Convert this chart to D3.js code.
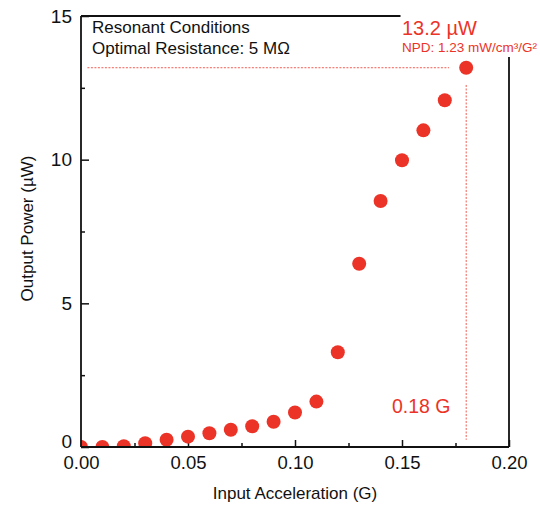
<!DOCTYPE html>
<html>
<head>
<meta charset="utf-8">
<script src="https://cdn.jsdelivr.net/npm/d3@7"></script>
<style>
  body { margin: 0; background: #fff; }
  #plot { width: 540px; height: 507px; }
  text { font-family: "Liberation Sans", Arial, Helvetica, sans-serif; }
</style>
</head>
<body>
<div id="plot"></div>
<script>
// data
var accel = [0.00, 0.01, 0.02, 0.03, 0.04, 0.05, 0.06, 0.07, 0.08, 0.09,
             0.10, 0.11, 0.12, 0.13, 0.14, 0.15, 0.16, 0.17, 0.18];
var power = [0.0, 0.0, 0.03, 0.13, 0.25, 0.36, 0.48, 0.60, 0.72, 0.88,
             1.20, 1.58, 3.30, 6.38, 8.56, 9.98, 11.02, 12.07, 13.2];
var xMajor = [0.00, 0.05, 0.10, 0.15, 0.20];
var xMinor = [0.025, 0.075, 0.125, 0.175];
var yMajor = [0, 5, 10, 15];
var yMinor = [2.5, 7.5, 12.5];

var red = '#ec3327';

var margin = {t:16, r:31, b:60, l:81};
var width = 540 - margin.l - margin.r,
    height = 507 - margin.t - margin.b;

var svg = d3.select('#plot')
    .append('svg')
    .attr('width', 540)
    .attr('height', 507);

svg.append('defs').append('clipPath')
    .attr('id', 'clip')
    .append('rect')
    .attr('width', width)
    .attr('height', height);

var plot = svg.append('g')
    .attr('transform', 'translate(' + margin.l + ',' + margin.t + ')');

var x = d3.scaleLinear().domain([0, 0.20]).range([0, width]);
var y = d3.scaleLinear().domain([0, 15]).range([height, 0]);

// minor ticks (inward, no labels)
plot.append('g')
    .attr('transform', 'translate(0,' + height + ')')
    .call(d3.axisBottom(x).tickValues(xMinor).tickSize(-4).tickFormat(''))
    .call(function(g){ g.select('.domain').remove(); });
plot.append('g')
    .call(d3.axisLeft(y).tickValues(yMinor).tickSize(-4).tickFormat(''))
    .call(function(g){ g.select('.domain').remove(); });

// major ticks
var xAxis = plot.append('g')
    .attr('transform', 'translate(0,' + height + ')')
    .call(d3.axisBottom(x).tickValues(xMajor).tickSize(-7).tickPadding(9)
        .tickFormat(d3.format('.2f')));
xAxis.select('.domain').remove();
xAxis.selectAll('text').style('font-size', '18.5px').attr('fill', '#111');

var yAxis = plot.append('g')
    .call(d3.axisLeft(y).tickValues(yMajor).tickSize(-8).tickPadding(9));
yAxis.select('.domain').remove();
yAxis.selectAll('text').style('font-size', '19px').attr('fill', '#111')
    .attr('dy', function(d){ return d === 0 ? '0.05em' : '0.32em'; });
plot.selectAll('.tick line').attr('stroke', '#111').attr('stroke-width', 1.5);

// dashed guides to the max point
plot.append('line')
    .attr('x1', x(0.003)).attr('x2', x(0.172))
    .attr('y1', y(13.2)).attr('y2', y(13.2))
    .attr('stroke', red).attr('stroke-width', 0.8)
    .attr('stroke-dasharray', '2,1.5');
plot.append('line')
    .attr('x1', x(0.18)).attr('x2', x(0.18))
    .attr('y1', y(12.6)).attr('y2', y(0.25))
    .attr('stroke', red).attr('stroke-width', 0.8)
    .attr('stroke-dasharray', '2,1.5');

// points, clipped to the plot area like the original
plot.append('g')
    .attr('clip-path', 'url(#clip)')
    .selectAll('circle.pt')
    .data(accel)
    .enter()
    .append('circle')
    .attr('class', 'pt')
    .attr('cx', function(d){ return x(d); })
    .attr('cy', function(d, i){ return y(power[i]); })
    .attr('r', 7)
    .attr('fill', red);

// frame: top border stops before the label, right border starts below it
var frame = plot.append('g')
    .attr('stroke', '#111')
    .attr('stroke-width', 1.8)
    .attr('fill', 'none');
frame.append('line').attr('x1', x(0)).attr('x2', x(0)).attr('y1', y(15)).attr('y2', y(0));
frame.append('line').attr('x1', x(0)).attr('x2', x(0.20)).attr('y1', y(0)).attr('y2', y(0));
frame.append('line').attr('x1', x(0)).attr('x2', x(0.1493)).attr('y1', y(15)).attr('y2', y(15));
frame.append('line').attr('x1', x(0.20)).attr('x2', x(0.20)).attr('y1', y(13.57)).attr('y2', y(0));

// annotations
plot.append('text')
    .attr('x', 11).attr('y', 17)
    .style('font-size', '17px').attr('fill', '#111')
    .text('Resonant Conditions');
plot.append('text')
    .attr('x', 11).attr('y', 38)
    .style('font-size', '17px').attr('fill', '#111')
    .text('Optimal Resistance: 5 M\u03A9');

plot.append('text')
    .attr('x', 321).attr('y', 19)
    .style('font-size', '20px').attr('fill', red)
    .text('13.2 \u00B5W');
plot.append('text')
    .attr('x', 321).attr('y', 36)
    .style('font-size', '13.5px').attr('fill', red)
    .text('NPD: 1.23 mW/cm\u00B3/G\u00B2');

plot.append('text')
    .attr('x', 311).attr('y', 397)
    .style('font-size', '19.5px').attr('fill', red)
    .text('0.18 G');

// axis titles
svg.append('text')
    .attr('x', margin.l + width / 2).attr('y', 499)
    .attr('text-anchor', 'middle')
    .style('font-size', '17px').attr('fill', '#111')
    .text('Input Acceleration (G)');
svg.append('text')
    .attr('transform', 'translate(33,' + (margin.t + height / 2 - 3) + ') rotate(-90)')
    .attr('text-anchor', 'middle')
    .style('font-size', '17px').attr('fill', '#111')
    .text('Output Power (\u00B5W)');
</script>
</body>
</html>
